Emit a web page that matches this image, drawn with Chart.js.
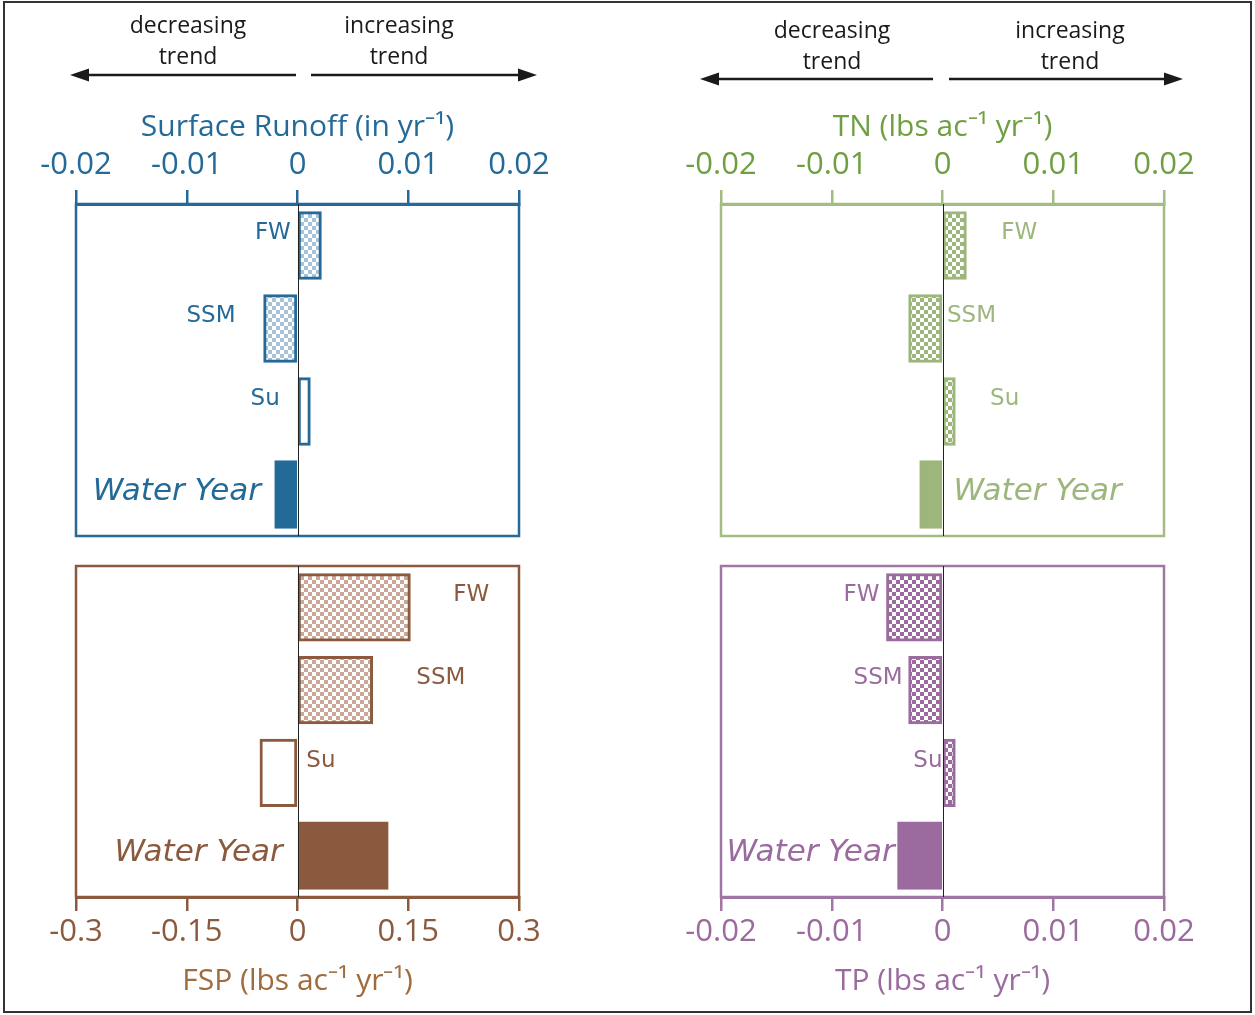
<!DOCTYPE html>
<html>
<head>
<meta charset="utf-8">
<script src="https://cdn.jsdelivr.net/npm/chart.js@4/dist/chart.umd.min.js"></script>
<style>
  html, body { margin: 0; padding: 0; background: #fff; width: 1255px; height: 1015px; overflow: hidden; }
  #frame { position: absolute; left: 3px; top: 1px; width: 1249px; height: 1012px; border: 2px solid #333; box-sizing: border-box; }
  canvas { position: absolute; }
  #overlay { position: absolute; left: 0; top: 0; }
</style>
</head>
<body>
<div id="frame"></div>
<canvas id="runoff" width="620" height="460" style="left:0;top:90px;width:620px;height:460px"></canvas>
<canvas id="tn" width="615" height="460" style="left:640px;top:90px;width:615px;height:460px"></canvas>
<canvas id="fsp" width="620" height="459" style="left:0;top:556px;width:620px;height:459px"></canvas>
<canvas id="tp" width="615" height="459" style="left:640px;top:556px;width:615px;height:459px"></canvas>
<svg id="overlay" width="1255" height="120" xmlns="http://www.w3.org/2000/svg">
  <g font-family="Open Sans, sans-serif" font-size="23" fill="#1a1a1a" text-anchor="middle" dominant-baseline="middle">
    <text x="188" y="27">decreasing</text>
    <text x="188" y="58">trend</text>
    <text x="399" y="27">increasing</text>
    <text x="399" y="58">trend</text>
    <text x="832" y="32">decreasing</text>
    <text x="832" y="63">trend</text>
    <text x="1070" y="32">increasing</text>
    <text x="1070" y="63">trend</text>
  </g>
  <g stroke="#1a1a1a" stroke-width="2.5" fill="none">
    <line x1="296" y1="75" x2="84" y2="75"/>
    <line x1="311" y1="75" x2="523" y2="75"/>
    <line x1="933" y1="79" x2="714" y2="79"/>
    <line x1="949" y1="79" x2="1169" y2="79"/>
  </g>
  <g fill="#1a1a1a">
    <polygon points="70,75 89,68.5 89,81.5"/>
    <polygon points="537,75 518,68.5 518,81.5"/>
    <polygon points="700,79 719,72.5 719,85.5"/>
    <polygon points="1183,79 1164,72.5 1164,85.5"/>
  </g>
</svg>
<script>
// ---------------- data ----------------
const categories = ['FW', 'SSM', 'Su', 'Water Year'];
const runoffValues = [0.0021, -0.0030, 0.0011, -0.0020];   // in yr-1
const tnValues     = [0.0021, -0.0030, 0.0011, -0.0020];   // lbs ac-1 yr-1
const fspValues    = [0.152, 0.101, -0.050, 0.122];        // lbs ac-1 yr-1
const tpValues     = [-0.0050, -0.0030, 0.0011, -0.0040];  // lbs ac-1 yr-1
const smallTicks   = [-0.02, -0.01, 0, 0.01, 0.02];
const fspTicks     = [-0.3, -0.15, 0, 0.15, 0.3];

// ---------------- styling ----------------
const SANS = "'Open Sans', sans-serif";
const LABEL_FONT = "'DejaVu Sans', sans-serif";

function checker(c1, c2, size) {
  const p = document.createElement('canvas');
  p.width = size * 2; p.height = size * 2;
  const g = p.getContext('2d');
  g.fillStyle = c2; g.fillRect(0, 0, size * 2, size * 2);
  g.fillStyle = c1;
  g.fillRect(0, 0, size, size);
  g.fillRect(size, size, size, size);
  return document.getElementById('runoff').getContext('2d').createPattern(p, 'repeat');
}

const panels = [
  {
    id: 'runoff', values: runoffValues, ticks: smallTicks, min: -0.02, max: 0.02,
    title: 'Surface Runoff (in yr\u207B\u00B9)', pos: 'top',
    box: '#246a98', tickColor: '#246a98', titleColor: '#246a98', labelColor: '#246a98',
    fills: () => { const p = checker('#a6c3da', '#ffffff', 4); return [p, p, '#ffffff', '#246a98']; },
    border: '#246a98',
    labelAt: [-0.0006, -0.0056, -0.0016, -0.0033], labelAlign: ['right', 'right', 'right', 'right'],
    padding: { left: 76, right: 101, top: 19, bottom: 14 }
  },
  {
    id: 'tn', values: tnValues, ticks: smallTicks, min: -0.02, max: 0.02,
    title: 'TN (lbs ac\u207B\u00B9 yr\u207B\u00B9)', pos: 'top',
    box: '#a3bc82', tickColor: '#6f9f42', titleColor: '#6f9f42', labelColor: '#9db67b',
    fills: () => { const p = checker('#9db67b', '#ffffff', 4); return [p, p, p, '#9db67b']; },
    border: '#9db67b',
    labelAt: [0.0053, 0.0004, 0.0043, 0.0010], labelAlign: ['left', 'left', 'left', 'left'],
    padding: { left: 81, right: 91, top: 19, bottom: 14 }
  },
  {
    id: 'fsp', values: fspValues, ticks: fspTicks, min: -0.3, max: 0.3,
    title: 'FSP (lbs ac\u207B\u00B9 yr\u207B\u00B9)', pos: 'bottom',
    box: '#8b5a3e', tickColor: '#8b5a3e', titleColor: '#a06b3d', labelColor: '#8b5a3e',
    fills: () => { const p = checker('#caa899', '#ffffff', 4); return [p, p, '#ffffff', '#8b5a3e']; },
    border: '#8b5a3e',
    labelAt: [0.211, 0.161, 0.012, -0.020], labelAlign: ['left', 'left', 'left', 'right'],
    padding: { left: 76, right: 101, top: 10, bottom: 16 }
  },
  {
    id: 'tp', values: tpValues, ticks: smallTicks, min: -0.02, max: 0.02,
    title: 'TP (lbs ac\u207B\u00B9 yr\u207B\u00B9)', pos: 'bottom',
    box: '#a076a4', tickColor: '#9b6a9e', titleColor: '#9b6a9e', labelColor: '#9b6a9e',
    fills: () => { const p = checker('#9b6a9e', '#ffffff', 4); return [p, p, p, '#9b6a9e']; },
    border: '#9b6a9e',
    labelAt: [-0.0057, -0.0036, 0.0000, -0.0195], labelAlign: ['right', 'right', 'right', 'left'],
    padding: { left: 81, right: 91, top: 10, bottom: 16 }
  }
];

function decorPlugin(cfg) {
  return {
    id: 'decor_' + cfg.id,
    afterDatasetsDraw(chart) {
      const { ctx, chartArea: a, scales } = chart;
      const xs = scales.x, ys = scales.y;
      ctx.save();
      // panel box
      ctx.strokeStyle = cfg.box;
      ctx.lineWidth = 2.5;
      ctx.strokeRect(a.left, a.top, a.right - a.left, a.bottom - a.top);
      // zero line
      const x0 = Math.round(xs.getPixelForValue(0)) + 0.5;
      ctx.strokeStyle = '#222';
      ctx.lineWidth = 1;
      ctx.beginPath();
      ctx.moveTo(x0, a.top);
      ctx.lineTo(x0, a.bottom);
      ctx.stroke();
      // category labels
      ctx.fillStyle = cfg.labelColor;
      ctx.textBaseline = 'middle';
      categories.forEach((c, i) => {
        const wy = i === categories.length - 1;
        ctx.font = wy ? 'oblique 31px ' + LABEL_FONT : '23px ' + LABEL_FONT;
        ctx.textAlign = cfg.labelAlign[i];
        const x = xs.getPixelForValue(cfg.labelAt[i]);
        const y = ys.getPixelForValue(i) + (wy ? -3 : -12);
        ctx.fillText(c, x, y);
      });
      ctx.restore();
    }
  };
}

Chart.defaults.font.family = SANS;

panels.forEach(cfg => {
  const top = cfg.pos === 'top';
  const borders = [cfg.border, cfg.border, cfg.border, cfg.border];
  new Chart(document.getElementById(cfg.id).getContext('2d'), {
    type: 'bar',
    data: {
      labels: categories,
      datasets: [{
        data: cfg.values,
        backgroundColor: cfg.fills(),
        borderColor: borders,
        borderWidth: [3, 3, 3, 1],
        borderSkipped: false,
        inflateAmount: 1,
        categoryPercentage: 1,
        barPercentage: 0.8
      }]
    },
    options: {
      indexAxis: 'y',
      responsive: false,
      animation: false,
      devicePixelRatio: 1,
      layout: { padding: cfg.padding },
      plugins: { legend: { display: false }, tooltip: { enabled: false } },
      scales: {
        x: {
          type: 'linear',
          position: cfg.pos,
          min: cfg.min,
          max: cfg.max,
          afterBuildTicks: s => { s.ticks = cfg.ticks.map(v => ({ value: v })); },
          afterFit: s => { s.height = top ? 95 : 102; },
          ticks: {
            color: cfg.tickColor,
            font: { family: SANS, size: 31 },
            padding: top ? 6 : 3,
            maxRotation: 0,
            autoSkip: false,
            callback: v => String(v)
          },
          grid: { drawOnChartArea: false, drawTicks: true, tickLength: 14, color: cfg.box, lineWidth: 2.5 },
          border: { display: true, color: cfg.box, width: 3 },
          title: {
            display: true,
            text: cfg.title,
            color: cfg.titleColor,
            font: { family: SANS, size: 30 },
            padding: 0
          }
        },
        y: { type: 'category', display: false }
      }
    },
    plugins: [decorPlugin(cfg)]
  });
});
</script>
</body>
</html>
